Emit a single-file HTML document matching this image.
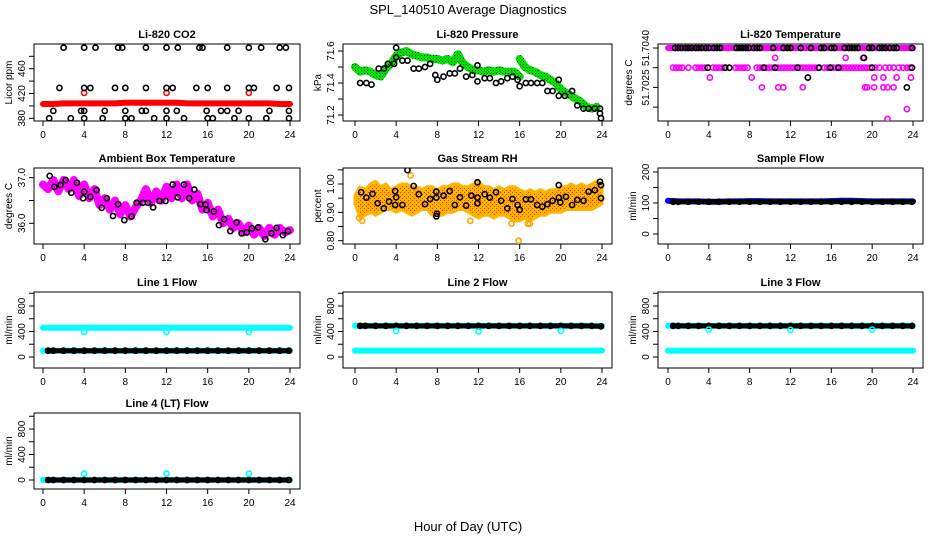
<!DOCTYPE html>
<html><head><meta charset="utf-8">
<style>
html,body{margin:0;padding:0;background:#fff;}
svg{display:block;font-family:"Liberation Sans",Arial,sans-serif;}
</style></head>
<body>
<svg id="chart" width="936" height="540" viewBox="0 0 936 540" xmlns="http://www.w3.org/2000/svg">
<defs>
<pattern id="rhpat" width="4" height="4" patternUnits="userSpaceOnUse"><rect width="4" height="4" fill="#ffb400"/><rect x="0" y="0" width="1" height="1" fill="#ff2000"/><rect x="2" y="2" width="1" height="1" fill="#ff2000"/></pattern>
<pattern id="grpat" width="3" height="3" patternUnits="userSpaceOnUse"><rect width="3" height="3" fill="#00e000"/><rect x="1" y="1" width="1" height="1" fill="#004000"/></pattern>
</defs>
<text x="468" y="14" text-anchor="middle" font-size="13">SPL_140510  Average Diagnostics</text>
<text x="468" y="531" text-anchor="middle" font-size="13">Hour of Day (UTC)</text>
</svg>
<script>
// ---------- data ----------
const HOURS = [0,1,2,3,4,5,6,7,8,9,10,11,12,13,14,15,16,17,18,19,20,21,22,23,24];
const HALF = [0,0.5,1,1.5,2,2.5,3,3.5,4,4.5,5,5.5,6,6.5,7,7.5,8,8.5,9,9.5,10,10.5,11,11.5,12,12.5,13,13.5,14,14.5,15,15.5,16,16.5,17,17.5,18,18.5,19,19.5,20,20.5,21,21.5,22,22.5,23,23.5,24];
const BLK_HOURS = [0.5,1,2,3,4,5,6,7,8,9,10,11,12,13,14,15,16,17,18,19,20,21,22,23,23.9];
const X_TICKS = [0,4,8,12,16,20,24];
const DIP_HOURS = [4,12,20];

// CO2
const co2RedBand = [403,403,404,404,404,404,404,404,405,405,405,405,405,405,404,404,404,404,404,404,404,404,404,403,403];
const co2RedDipVals = [421,421,421];
const co2TopHours = [2.0,4.0,5.1,7.3,7.7,10.0,12.0,13.1,15.2,15.5,17.9,20.0,21.2,23.0,23.6];
const co2TopVals = [494,494,494,494,494,494,494,494,494,494,494,494,494,494,494];
const co2MidHours = [1.6,4.0,4.6,7.0,8.0,10.0,12.0,12.6,14.9,16.0,17.9,20.0,20.5,22.7,23.9];
const co2MidVals = [429,429,429,429,429,429,429,429,429,429,429,429,429,429,429];
const co2LowHours = [1.0,3.7,4.0,6.0,8.0,9.6,10.0,12.0,13.0,15.9,17.3,17.9,19.0,22.0,23.9];
const co2LowVals = [392,392,392,392,392,392,392,392,392,392,392,392,392,392,392];
const co2BotHours = [0.6,2.7,4.0,5.8,8.0,8.6,10.8,12.0,13.7,16.0,16.5,18.6,20.0,21.7,23.9];
const co2BotVals = [380,380,380,380,380,380,380,380,380,380,380,380,380,380,380];

// Pressure
const presGreen = [71.50,71.47,71.48,71.47,71.45,71.44,71.49,71.52,71.57,71.59,71.60,71.58,71.57,71.56,71.56,71.55,71.55,71.54,71.55,71.53,71.58,71.52,71.50,71.48,71.48,71.47,71.48,71.47,71.48,71.47,71.47,71.47,71.44,71.44,71.44,71.44,71.45,71.44,71.44,71.43,71.42,71.42,71.55,71.44,71.41,71.40,71.40,71.39,71.38];
const presBlkHours = [0.5,1.1,1.6,2.3,2.8,3.2,3.8,4.0,4.0,4.6,5.1,5.7,6.2,6.8,7.3,7.8,8.0,8.6,9.2,9.7,10.2,10.8,11.4,11.9,11.9,12.6,13.1,13.7,14.2,14.8,15.3,15.8,16.0,16.6,17.1,17.7,18.2,18.7,19.2,19.8,19.8,20.4,21.1,21.6,22.2,22.7,23.3,23.8,23.8,23.9];
const presBlkVals = [71.40,71.40,71.39,71.49,71.49,71.52,71.52,71.56,71.62,71.54,71.54,71.49,71.49,71.50,71.52,71.45,71.42,71.44,71.46,71.46,71.49,71.44,71.45,71.51,71.41,71.43,71.43,71.40,71.41,71.43,71.44,71.42,71.38,71.40,71.40,71.40,71.40,71.35,71.35,71.32,71.42,71.32,71.35,71.26,71.24,71.24,71.24,71.24,71.21,71.18];
const presGreen2Hours = [16,16.5,17,17.5,18,18.5,19,19.5,20,20.5,21,21.5,22,22.5,23,23.5];
const presGreen2Vals = [71.55,71.50,71.48,71.47,71.45,71.44,71.42,71.40,71.36,71.34,71.32,71.30,71.28,71.25,71.24,71.25];

// Li-820 temperature
const tMagTopHours = HOURS;
const tMagTopVals = [51.7040,51.7040,51.7040,51.7040,51.7040,51.7040,51.7040,51.7040,51.7040,51.7040,51.7040,51.7040,51.7040,51.7040,51.7040,51.7040,51.7040,51.7040,51.7040,51.7040,51.7040,51.7040,51.7040,51.7040,51.7040];
const tMagRow2Hours = [0.5,0.8,1.1,1.4,2.0,2.7,3.0,3.3,3.6,4.4,4.7,5.0,5.3,5.6,6.6,6.9,7.2,7.5,7.8,8.7,9.0,9.3,9.6,9.9,10.2,10.5,10.8,11.1,11.4,11.7,12.0,12.3,12.6,12.9,13.2,13.5,13.8,14.1,14.4,14.7,15.3,15.6,15.9,16.2,16.5,16.8,17.1,17.4,17.7,18.0,18.3,18.6,18.9,19.2,19.5,19.8,20.3,20.7,21.3,21.7,22.1,22.6,23.0,23.4,23.7];
const tMagOtherHours = [10.5,17.4,19.1,4.1,8.2,20.2,21.1,22.4,23.8,9.2,10.8,11.3,13.2,19.3,19.5,20.2,21.1,21.5,22.1,23.4,21.5];
const tMagOtherVals = [51.70375,51.70375,51.70375,51.70325,51.70325,51.70325,51.70325,51.70325,51.70325,51.7030,51.7030,51.7030,51.7030,51.7030,51.7030,51.7030,51.7030,51.7030,51.7030,51.70245,51.7022];
const tBlkTopHours = [0.7,1.0,1.3,1.7,2.0,2.3,2.7,3.0,3.3,3.7,4.0,4.5,4.8,5.1,6.7,7.0,7.3,7.6,7.9,8.4,8.7,9.0,10.3,11.3,11.7,12.0,13.0,14.0,15.0,15.3,16.0,16.3,17.3,17.7,18.0,18.3,18.6,19.7,20.0,20.7,21.0,21.3,21.7,22.1,22.4,23.9];
const tBlkRow2Hours = [3.9,5.6,6.0,9.4,10.5,12.7,14.8,15.9,16.7,20.0,23.9];
const tBlkOtherHours = [19.2,13.7,23.4];
const tBlkOtherVals = [51.70375,51.70325,51.7030];

// Ambient box temperature
const ambMag = [36.85,36.75,36.95,36.7,36.95,36.75,36.95,36.6,36.85,36.55,36.75,36.4,36.55,36.3,36.5,36.2,36.4,36.15,36.35,36.5,36.75,36.45,36.7,36.5,36.8,36.55,36.85,36.55,36.85,36.5,36.65,36.3,36.45,36.15,36.3,36.0,36.1,35.9,36.0,35.8,35.95,35.75,35.9,35.72,35.9,35.75,35.9,35.8,35.85];
const ambBlkHours = [0.65,1.1,1.7,2.2,2.75,3.3,3.9,4.0,4.6,5.2,5.7,6.2,6.8,7.3,7.9,8.6,9.1,9.7,10.2,10.7,11.3,11.9,12.6,13.1,13.7,14.2,14.7,15.3,15.8,15.9,16.6,17.1,17.6,18.2,18.8,19.3,19.8,20.3,20.9,21.6,22.2,22.7,23.3,23.8];
const ambBlkVals = [37.04,36.8,36.84,36.95,36.67,36.89,36.55,36.69,36.58,36.73,36.34,36.55,36.16,36.42,36.07,36.15,36.45,36.45,36.45,36.35,36.49,36.49,36.85,36.57,36.85,36.55,36.74,36.42,36.41,36.29,36.26,35.96,36.09,35.83,36.02,35.78,35.8,35.89,35.91,35.65,35.78,35.9,35.74,35.83];

// Gas stream RH
const rhUpper = [0.96,0.99,0.98,1.00,1.01,0.99,1.00,0.98,0.99,1.00,1.00,0.99,0.99,0.98,0.99,0.99,0.98,0.99,0.99,1.00,1.00,0.99,0.99,1.00,1.01,0.99,0.99,0.98,0.99,0.98,0.99,0.99,0.98,0.97,0.98,0.97,0.98,0.97,0.98,0.98,0.99,0.99,1.00,0.99,1.00,0.99,1.00,1.01,1.00];
const rhLower = [0.93,0.88,0.89,0.90,0.89,0.90,0.91,0.91,0.90,0.91,0.90,0.89,0.90,0.91,0.91,0.89,0.89,0.89,0.90,0.90,0.91,0.91,0.90,0.89,0.88,0.89,0.89,0.88,0.89,0.89,0.88,0.87,0.87,0.88,0.87,0.88,0.89,0.89,0.90,0.90,0.90,0.91,0.91,0.91,0.91,0.91,0.91,0.92,0.93];
const rhOutHours = [0.4,0.7,5.4,11.2,15.2,15.9,16.8,17.0,8.7];
const rhOutVals = [0.88,0.87,1.03,0.87,0.86,0.80,0.86,0.86,0.92];
const rhBlkHours = [0.6,1.1,1.7,2.2,2.8,3.3,3.9,3.9,4.0,4.6,5.1,5.7,6.2,6.8,7.3,7.9,7.9,7.95,7.9,8.6,9.2,9.7,10.2,10.8,11.3,11.9,11.9,11.9,12.6,13.1,13.7,14.2,14.8,15.3,15.8,16.0,16.6,17.1,17.7,18.2,18.7,19.2,19.8,19.8,19.95,20.5,21.1,21.6,22.2,22.7,23.3,23.8,23.9,23.9];
const rhBlkVals = [0.971,0.952,0.965,0.932,0.914,0.938,0.975,0.926,0.953,0.926,1.049,0.993,0.964,0.929,0.947,0.886,0.973,0.895,0.952,0.959,0.975,0.926,0.953,0.924,0.959,0.952,1.006,0.932,0.964,0.952,0.971,0.941,0.914,0.947,0.926,0.909,0.946,0.946,0.926,0.920,0.929,0.941,0.952,0.996,0.935,0.955,0.926,0.944,0.941,0.973,0.978,1.008,0.996,0.950];

// Sample flow
const sfBlue = [107,105,105,105,104,104,105,105,106,106,105,105,105,105,105,105,106,107,107,106,105,105,105,105,105];
const sfBlack = [104,104,104,104,104,104,104,104,104,104,104,104,104,104,104,104,104,104,104,104,104,104,104,104,104];

// Line flows
const l1CyanHigh = [458,458,458,458,458,458,458,458,458,458,458,458,458,458,458,458,458,458,458,458,458,458,458,458,458];
const l1CyanLow = [99,99,99,99,99,99,99,99,99,99,99,99,99,99,99,99,99,99,99,99,99,99,99,99,99];
const l1Black = [99,99,99,99,99,99,99,99,99,99,99,99,99,99,99,99,99,99,99,99,99,99,99,99,99];
const l1Dips = [395,395,395];
const l2CyanHigh = [490,488,488,488,488,488,488,488,488,488,488,488,488,488,488,488,488,488,488,488,488,488,488,488,488];
const l2CyanLow = [100,100,100,100,100,100,100,100,100,100,100,100,100,100,100,100,100,100,100,100,100,100,100,100,100];
const l2Black = [488,488,488,488,488,488,488,488,488,488,488,488,488,488,488,488,488,488,488,488,488,488,488,488,480];
const l2Dips = [410,400,410];
const l3CyanHigh = [490,488,488,488,488,488,488,488,488,488,488,488,488,488,488,488,488,488,488,488,488,488,488,488,488];
const l3CyanLow = [100,100,100,100,100,100,100,100,100,100,100,100,100,100,100,100,100,100,100,100,100,100,100,100,100];
const l3Black = [488,488,488,488,488,488,488,488,488,488,488,488,488,488,488,488,488,488,488,488,488,488,488,488,488];
const l3Dips = [430,425,430];
const l4Cyan = [0,0,0,0,0,0,0,0,0,0,0,0,0,0,0,0,0,0,0,0,0,0,0,0,0];
const l4Black = [0,0,0,0,0,0,0,0,0,0,0,0,0,0,0,0,0,0,0,0,0,0,0,0,0];
const l4Dips = [100,100,100];

// ---------- drawing ----------
const NS = 'http://www.w3.org/2000/svg';
const svg = document.getElementById('chart');
let clipId = 0;
function mk(tag, parent, a) {
  const e = document.createElementNS(NS, tag);
  for (const k in a) e.setAttribute(k, a[k]);
  parent.appendChild(e);
  return e;
}
function panel(p) {
  const g = mk('g', svg, {});
  
  
  const sx = h => p.xa + h * (p.xb - p.xa) / 24;
  const sy = v => p.yA + (v - p.vA) * (p.yB - p.yA) / (p.vB - p.vA);
  const t = mk('text', g, {x: (p.x0 + p.x1) / 2, y: p.y0 - 6, 'text-anchor': 'middle', 'font-size': 11, 'font-weight': 'bold'});
  t.textContent = p.title;
  
  
  const xa = mk('g', g, {});
  
  
  mk('line', xa, {x1: sx(0), x2: sx(24), y1: p.y1, y2: p.y1, stroke: '#000'});
  X_TICKS.forEach(h => {
    mk('line', xa, {x1: sx(h), x2: sx(h), y1: p.y1, y2: p.y1 + 5, stroke: '#000'});
    const lb = mk('text', xa, {x: sx(h), y: p.y1 + 17, 'text-anchor': 'middle', 'font-size': 10});
    lb.textContent = h;
  });
  const ya = mk('g', g, {});
  
  
  const yt = p.ticks.map(sy);
  mk('line', ya, {x1: p.x0, x2: p.x0, y1: yt[0], y2: yt[yt.length - 1], stroke: '#000'});
  p.ticks.forEach((v, i) => {
    mk('line', ya, {x1: p.x0 - 5, x2: p.x0, y1: yt[i], y2: yt[i], stroke: '#000'});
    if (p.labels[i]) {
      const lb = mk('text', ya, {x: 0, y: 0, 'text-anchor': 'middle', 'font-size': 10, transform: `translate(${p.x0 - 9},${yt[i]}) rotate(-90)`});
      lb.textContent = p.labels[i];
    }
  });
  const yl = mk('text', g, {x: 0, y: 0, 'text-anchor': 'middle', 'font-size': 10, transform: `translate(${p.x0 - (p.ylabOff || 22)},${(p.y0 + p.y1) / 2}) rotate(-90)`});
  yl.textContent = p.ylab;
  
  
  mk('rect', g, {x: p.x0, y: p.y0, width: p.x1 - p.x0, height: p.y1 - p.y0, fill: 'none', stroke: '#000'});
  const cid = 'clip' + (clipId++);
  const cp = mk('clipPath', g, {id: cid});
  mk('rect', cp, {x: p.x0, y: p.y0, width: p.x1 - p.x0, height: p.y1 - p.y0});
  const data = mk('g', g, {'clip-path': `url(#${cid})`});
  return {g: data, sx, sy};
}
function pts(P, hours, vals, color, name, r, sw) {
  const s = mk('g', P.g, {});
  
  
  hours.forEach((h, i) => {
    const c = mk('circle', s, {cx: P.sx(h), cy: P.sy(vals[i]), r: r || 2.6, fill: 'none', stroke: color, 'stroke-width': sw || 1.6});
    
    
  });
}
function band(P, hours, vals, color, w, name, dash) {
  const d = hours.map((h, i) => P.sx(h).toFixed(1) + ',' + P.sy(vals[i]).toFixed(1)).join(' ');
  const l = mk('polyline', P.g, {points: d, fill: 'none', stroke: color, 'stroke-width': w, 'stroke-linejoin': 'round', 'stroke-linecap': 'round'});
  if (dash) l.setAttribute('stroke-dasharray', dash);
  
  
}
function area(P, hours, up, lo, fill, name) {
  const a = hours.map((h, i) => P.sx(h).toFixed(1) + ',' + P.sy(up[i]).toFixed(1));
  const b = hours.map((h, i) => P.sx(h).toFixed(1) + ',' + P.sy(lo[i]).toFixed(1)).reverse();
  const pg = mk('polygon', P.g, {points: a.concat(b).join(' '), fill: fill, stroke: '#ffb400', 'stroke-width': 3, 'stroke-linejoin': 'round'});
  
  
}

const C1 = {x0: 34, x1: 300, xa: 43, xb: 290};
const C2 = {x0: 343, x1: 612, xa: 355, xb: 602};
const C3 = {x0: 658, x1: 923, xa: 668, xb: 913};
const R1 = {y0: 44, y1: 121}, R2 = {y0: 168, y1: 244}, R3 = {y0: 292, y1: 368}, R4 = {y0: 413, y1: 489};
const FLOW_TICKS = [0,200,400,600,800,1000];
const FLOW_LABELS = ['0','','400','','800',''];

let P = panel(Object.assign({name: 'panel-co2', title: 'Li-820 CO2', ylab: 'Licor ppm', vA: 380, yA: 118.3, vB: 460, yB: 68.7, ticks: [380,400,420,440,460,480], labels: ['380','','420','','460','']}, C1, R1));
band(P, HOURS, co2RedBand, '#ff0000', 6, 'co2-red-band');
pts(P, DIP_HOURS, co2RedDipVals, '#ff0000', 'co2-red-dips');
pts(P, co2TopHours, co2TopVals, '#000', 'co2-black-top');
pts(P, co2MidHours, co2MidVals, '#000', 'co2-black-mid');
pts(P, co2LowHours, co2LowVals, '#000', 'co2-black-low');
pts(P, co2BotHours, co2BotVals, '#000', 'co2-black-bottom');

P = panel(Object.assign({name: 'panel-pressure', title: 'Li-820 Pressure', ylab: 'kPa', vA: 71.6, yA: 51, vB: 71.2, yB: 115, ticks: [71.2,71.3,71.4,71.5,71.6], labels: ['71.2','','71.4','','71.6']}, C2, R1));
band(P, HALF.slice(0, 33), presGreen.slice(0, 33), 'url(#grpat)', 8, 'pressure-green-band');
band(P, presGreen2Hours, presGreen2Vals, 'url(#grpat)', 8, 'pressure-green-band-2');
pts(P, presBlkHours, presBlkVals, '#000', 'pressure-black');

P = panel(Object.assign({name: 'panel-li820-temp', title: 'Li-820 Temperature', ylab: 'degrees C', ylabOff: 26, vA: 51.7040, yA: 48, vB: 51.7025, yB: 107.1, ticks: [51.7040,51.7035,51.7030,51.7025], labels: ['51.7040','','51.7025','']}, C3, R1));
band(P, tMagTopHours, tMagTopVals, '#ff00ff', 6, 'temp-magenta-top');
pts(P, tMagRow2Hours, tMagRow2Hours.map(() => 51.7035), '#ff00ff', 'temp-magenta-row2');
pts(P, tMagOtherHours, tMagOtherVals, '#ff00ff', 'temp-magenta-other');
pts(P, tBlkTopHours, tBlkTopHours.map(() => 51.7040), '#000', 'temp-black-top');
pts(P, tBlkRow2Hours, tBlkRow2Hours.map(() => 51.7035), '#000', 'temp-black-row2');
pts(P, tBlkOtherHours, tBlkOtherVals, '#000', 'temp-black-other');

P = panel(Object.assign({name: 'panel-ambient-temp', title: 'Ambient Box Temperature', ylab: 'degrees C', vA: 37.0, yA: 177.7, vB: 36.0, yB: 223.3, ticks: [36.0,36.5,37.0], labels: ['36.0','','37.0']}, C1, R2));
band(P, HALF, ambMag, '#ff00ff', 8, 'ambient-magenta-band');
pts(P, ambBlkHours, ambBlkVals, '#000', 'ambient-black');

P = panel(Object.assign({name: 'panel-gas-rh', title: 'Gas Stream RH', ylab: 'percent', vA: 1.0, yA: 184, vB: 0.8, yB: 240.7, ticks: [0.80,0.85,0.90,0.95,1.00,1.05], labels: ['0.80','','0.90','','1.00','']}, C2, R2));
area(P, HALF, rhUpper, rhLower, 'url(#rhpat)', 'rh-orange-band');
pts(P, rhOutHours, rhOutVals, '#ffa500', 'rh-orange-outliers');
pts(P, rhBlkHours, rhBlkVals, '#000', 'rh-black');

P = panel(Object.assign({name: 'panel-sample-flow', title: 'Sample Flow', ylab: 'ml/min', vA: 200, yA: 172, vB: 0, yB: 234, ticks: [0,50,100,150,200], labels: ['0','','100','','200']}, C3, R2));
band(P, HOURS, sfBlue, '#0000ff', 6, 'sample-flow-blue');
band(P, BLK_HOURS, sfBlack, '#000', 5, 'sample-flow-black-band', '4 1.5');
pts(P, BLK_HOURS, sfBlack, '#000', 'sample-flow-black');

P = panel(Object.assign({name: 'panel-line1-flow', title: 'Line 1 Flow', ylab: 'ml/min', vA: 0, yA: 357, vB: 800, yB: 306, ticks: FLOW_TICKS, labels: FLOW_LABELS}, C1, R3));
band(P, HOURS, l1CyanHigh, '#00ffff', 6, 'line1-cyan-high');
band(P, HOURS, l1CyanLow, '#00ffff', 6, 'line1-cyan-low');
band(P, BLK_HOURS, l1Black, '#000', 5, 'line1-black-band', '4 1.5');
pts(P, BLK_HOURS, l1Black, '#000', 'line1-black');
pts(P, DIP_HOURS, l1Dips, '#00ffff', 'line1-cyan-dips');

P = panel(Object.assign({name: 'panel-line2-flow', title: 'Line 2 Flow', ylab: 'ml/min', vA: 0, yA: 357, vB: 800, yB: 306, ticks: FLOW_TICKS, labels: FLOW_LABELS}, C2, R3));
band(P, HOURS, l2CyanHigh, '#00ffff', 6, 'line2-cyan-high');
band(P, HOURS, l2CyanLow, '#00ffff', 6, 'line2-cyan-low');
band(P, BLK_HOURS, l2Black, '#000', 5, 'line2-black-band', '4 1.5');
pts(P, BLK_HOURS, l2Black, '#000', 'line2-black');
pts(P, DIP_HOURS, l2Dips, '#00ffff', 'line2-cyan-dips');

P = panel(Object.assign({name: 'panel-line3-flow', title: 'Line 3 Flow', ylab: 'ml/min', vA: 0, yA: 357, vB: 800, yB: 306, ticks: FLOW_TICKS, labels: FLOW_LABELS}, C3, R3));
band(P, HOURS, l3CyanHigh, '#00ffff', 6, 'line3-cyan-high');
band(P, HOURS, l3CyanLow, '#00ffff', 6, 'line3-cyan-low');
band(P, BLK_HOURS, l3Black, '#000', 5, 'line3-black-band', '4 1.5');
pts(P, BLK_HOURS, l3Black, '#000', 'line3-black');
pts(P, DIP_HOURS, l3Dips, '#00ffff', 'line3-cyan-dips');

P = panel(Object.assign({name: 'panel-line4-flow', title: 'Line 4 (LT) Flow', ylab: 'ml/min', vA: 0, yA: 480, vB: 800, yB: 429, ticks: FLOW_TICKS, labels: FLOW_LABELS}, C1, R4));
band(P, HOURS, l4Cyan, '#00ffff', 6, 'line4-cyan');
band(P, BLK_HOURS, l4Black, '#000', 5, 'line4-black-band', '4 1.5');
pts(P, BLK_HOURS, l4Black, '#000', 'line4-black');
pts(P, DIP_HOURS, l4Dips, '#00ffff', 'line4-cyan-dips');
</script>
</body></html>
